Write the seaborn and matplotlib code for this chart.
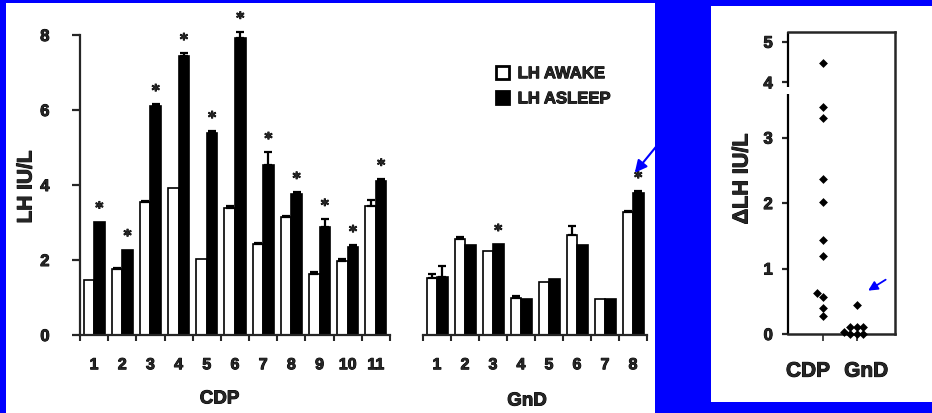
import numpy as np
import pandas as pd
import matplotlib
matplotlib.use('Agg')
import matplotlib.pyplot as plt
import matplotlib.patheffects as pe
import seaborn as sns
from matplotlib.patches import Rectangle, Patch
from matplotlib.transforms import blended_transform_factory

# LH per subject, awake vs asleep (IU/L)
cdp_subjects = [str(i) for i in range(1, 12)]
cdp_awake = [1.47, 1.76, 3.54, 3.91, 2.03, 3.40, 2.43, 3.14, 1.64, 1.98, 3.45]
cdp_asleep = [3.02, 2.28, 6.10, 7.43, 5.40, 7.93, 4.54, 3.76, 2.87, 2.34, 4.10]
cdp_awake_err = [0.0, 0.04, 0.04, 0.0, 0.0, 0.04, 0.03, 0.04, 0.05, 0.04, 0.15]
cdp_asleep_err = [0.0, 0.0, 0.05, 0.08, 0.03, 0.15, 0.33, 0.05, 0.22, 0.05, 0.06]
cdp_starred = cdp_subjects

gnd_subjects = [str(i) for i in range(1, 9)]
gnd_awake = [1.53, 2.57, 2.25, 1.00, 1.42, 2.67, 0.97, 3.27]
gnd_asleep = [1.56, 2.39, 2.42, 0.97, 1.49, 2.41, 0.97, 3.78]
gnd_awake_err = [0.10, 0.04, 0.0, 0.04, 0.0, 0.25, 0.0, 0.05]
gnd_asleep_err = [0.28, 0.0, 0.0, 0.0, 0.0, 0.0, 0.0, 0.05]
gnd_starred = ['3', '8']

states = ['LH AWAKE', 'LH ASLEEP']

# change in LH (asleep - awake)
delta_cdp = [4.47, 3.47, 3.30, 2.36, 2.01, 1.44, 1.19, 0.62, 0.57, 0.40, 0.27]
delta_gnd = [0.44, 0.11, 0.10, 0.10, 0.03, 0.0, 0.0, 0.0]

sns.set_style('ticks')
plt.rcParams['font.family'] = ['Liberation Sans', 'DejaVu Sans']
plt.rcParams['font.weight'] = 'bold'

BLUE = '#0000ff'
W, H = 932, 414
fig = plt.figure(figsize=(W / 100, H / 100), dpi=100, facecolor=BLUE)

# white panels
fig.add_artist(Rectangle((6 / W, 0), 649 / W, 410 / H, transform=fig.transFigure,
                         facecolor='white', edgecolor='none', zorder=-5))
fig.add_artist(Rectangle((711 / W, 11 / H), 221 / W, 396 / H, transform=fig.transFigure,
                         facecolor='white', edgecolor='none', zorder=-5))

ax1 = fig.add_axes([80 / W, 78 / H, 310 / W, 300 / H])
ax2 = fig.add_axes([423 / W, 78 / H, 224 / W, 300 / H], sharey=ax1)
ax3 = fig.add_axes([788 / W, 79 / H, 107 / W, 302 / H])
for ax in (ax1, ax2, ax3):
    ax.patch.set_visible(False)

palette = {'LH AWAKE': 'white', 'LH ASLEEP': 'black'}


def bar_panel(ax, subjects, awake, asleep, awake_err, asleep_err, starred):
    df = pd.DataFrame({
        'subject': subjects * 2,
        'state': [states[0]] * len(subjects) + [states[1]] * len(subjects),
        'LH': awake + asleep,
    })
    sns.barplot(data=df, x='subject', y='LH', hue='state', order=subjects,
                hue_order=states, palette=palette, width=0.75, edgecolor='black',
                linewidth=1.2, errorbar=None, legend=False, ax=ax)
    for cont, errs, is_asleep in zip(ax.containers, [awake_err, asleep_err], [False, True]):
        for bar, e, subj in zip(cont, errs, subjects):
            x = bar.get_x() + bar.get_width() / 2
            top = bar.get_height()
            if e > 0:
                ax.errorbar(x, top, yerr=[[0], [e]], fmt='none', ecolor='black',
                            elinewidth=1.6, capsize=3, capthick=1.6, clip_on=False)
            if is_asleep and subj in starred:
                ax.text(x, top + e + 0.36, '*', ha='center', va='center',
                        fontsize=11, fontweight='bold', family='DejaVu Sans',
                        clip_on=False)
    n = len(subjects)
    ax.set_xlim(-0.5, n - 0.5)
    ax.set_xticks(range(n))
    ax.set_xticklabels(subjects, fontsize=11.5, fontweight='bold')
    ax.set_xticks(np.arange(-0.5, n, 1), minor=True)
    ax.tick_params(axis='x', which='major', length=0, pad=16)
    ax.tick_params(axis='x', which='minor', length=4, width=1.5, direction='out')
    ax.set_xlabel('')
    ax.set_ylabel('')
    sns.despine(ax=ax)
    for s in ('left', 'bottom'):
        ax.spines[s].set_linewidth(1.6)


bar_panel(ax1, cdp_subjects, cdp_awake, cdp_asleep, cdp_awake_err, cdp_asleep_err, cdp_starred)
bar_panel(ax2, gnd_subjects, gnd_awake, gnd_asleep, gnd_awake_err, gnd_asleep_err, gnd_starred)

ax1.set_ylim(0, 8)
ax1.set_yticks([0, 2, 4, 6, 8])
ax1.tick_params(axis='y', length=6, width=1.6, pad=16, labelsize=12)
for t in ax1.get_yticklabels():
    t.set_fontweight('bold')
ax2.spines['left'].set_visible(False)
ax2.tick_params(axis='y', left=False, labelleft=False)

ax1.text(0.45, -0.213, 'CDP', transform=ax1.transAxes, ha='center', va='center',
         fontsize=13.5, fontweight='bold')
ax2.text(0.464, -0.22, 'GnD', transform=ax2.transAxes, ha='center', va='center',
         fontsize=13.5, fontweight='bold')
fig.text(26 / W, 1 - 188 / H, 'LH IU/L', rotation=90, ha='center', va='center',
         fontsize=15, fontweight='bold')

handles = [Patch(facecolor=palette[s], edgecolor='black', linewidth=2) for s in states]
fig.legend(handles, states, loc='upper left', bbox_to_anchor=(496 / W, 1 - 67 / H),
           frameon=False, handlelength=0.8, handleheight=0.8,
           handletextpad=0.5, labelspacing=0.6, borderpad=0, borderaxespad=0,
           prop={'weight': 'bold', 'size': 12})

ax2.annotate('', xy=(7.0, 4.27), xytext=(18, 22), textcoords='offset points',
             arrowprops=dict(arrowstyle='-|>', color=BLUE, lw=1.5, mutation_scale=18),
             annotation_clip=False)

# delta LH dot plot with broken y axis
brk, ratio = 3.59, 0.62


def fwd(v):
    v = np.asarray(v, dtype=float)
    return np.where(v <= brk, v, brk + (v - brk) * ratio)


def inv(v):
    v = np.asarray(v, dtype=float)
    return np.where(v <= brk, v, brk + (v - brk) / ratio)


ax3.set_yscale('function', functions=(fwd, inv))
ax3.set_ylim(0, 5.24)
ax3.set_xlim(-1.02, 2.13)
dots = pd.DataFrame({
    'group': ['CDP'] * len(delta_cdp) + ['GnD'] * len(delta_gnd),
    'delta': delta_cdp + delta_gnd,
})
sns.swarmplot(data=dots, x='group', y='delta', order=['CDP', 'GnD'], marker='D',
              color='black', size=4.5, ax=ax3, clip_on=False)
ax3.set_xlim(-1.02, 2.13)
ax3.set_ylim(0, 5.24)
ax3.set_yticks([0, 1, 2, 3, 4, 5])
ax3.set_yticklabels(['0', '1', '2', '3', '4', '5'], fontsize=12, fontweight='bold')
ax3.yaxis.set_minor_locator(matplotlib.ticker.NullLocator())
ax3.tick_params(axis='y', length=4, width=1.6, pad=7)
ax3.set_xticks([0, 1])
ax3.set_xticklabels(['', ''])
ax3.tick_params(axis='x', length=5, width=1.2)
ax3.set_xlabel('')
ax3.set_ylabel('')
for s in ('top', 'right', 'bottom'):
    ax3.spines[s].set_linewidth(1.8)
ax3.spines['left'].set_visible(False)
tr = blended_transform_factory(ax3.transAxes, ax3.transData)
ax3.plot([0, 0], [0, 3.71], transform=tr, color='black', lw=1.6, clip_on=False,
         solid_capstyle='butt')
ax3.plot([0, 0], [3.88, 5.24], transform=tr, color='black', lw=1.6, clip_on=False,
         solid_capstyle='butt')
ax3.text(0.187, -0.123, 'CDP', transform=ax3.transAxes, ha='center', va='center',
         fontsize=15, fontweight='bold')
ax3.text(0.73, -0.123, 'GnD', transform=ax3.transAxes, ha='center', va='center',
         fontsize=15, fontweight='bold')
fig.text(742 / W, 1 - 180 / H, '\u0394LH IU/L', rotation=90, ha='center', va='center',
         fontsize=15.5, fontweight='bold')
ax3.annotate('', xy=(1.27, 0.64), xytext=(16, 10), textcoords='offset points',
             arrowprops=dict(arrowstyle='-|>', color=BLUE, lw=1.3, mutation_scale=14),
             annotation_clip=False)

# scanned-looking heavy lettering
for t in fig.findobj(matplotlib.text.Text):
    if t.get_text():
        t.set_path_effects([pe.withStroke(linewidth=0.7, foreground='black')])

fig.savefig('out.png', dpi=100, facecolor=BLUE)
